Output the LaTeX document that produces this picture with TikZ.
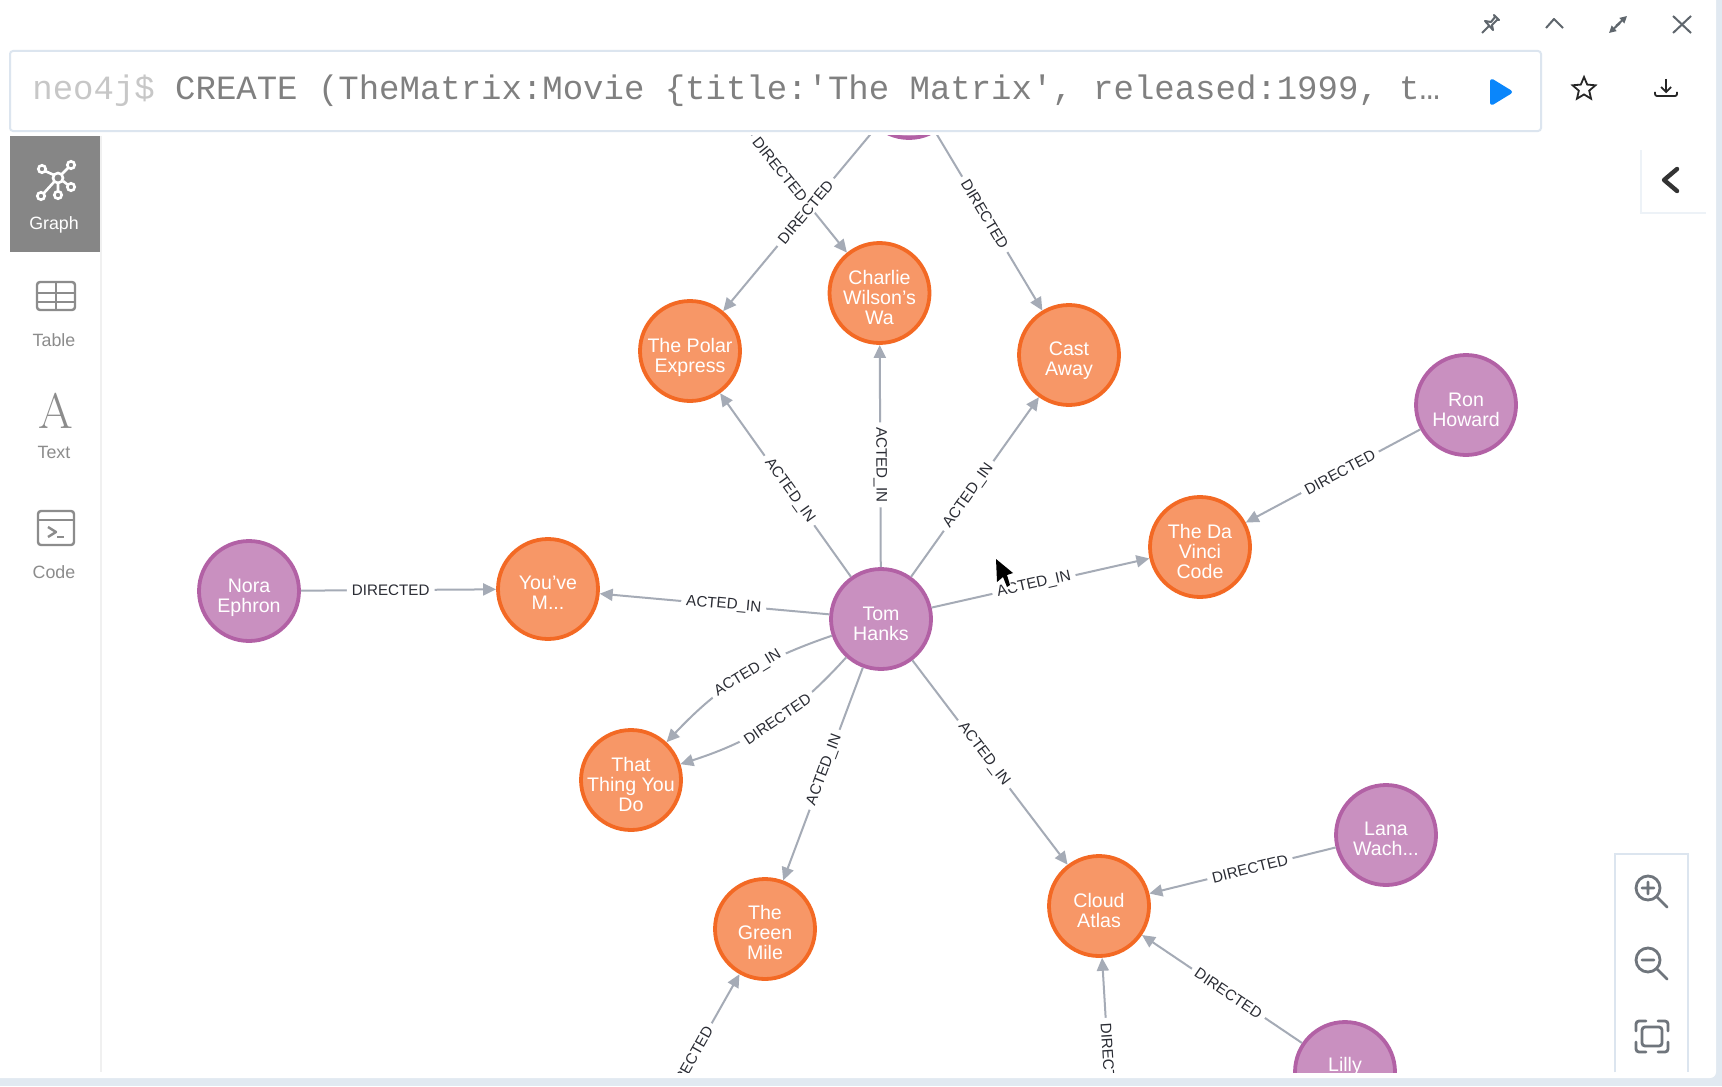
\documentclass[tikz,border=0pt]{standalone}
\usepackage{fontspec}
\setmainfont{Liberation Sans}
\setmonofont{Liberation Mono}
\usetikzlibrary{arrows.meta}
\usetikzlibrary{shapes.geometric}
\definecolor{movieFill}{HTML}{F79767}
\definecolor{movieLine}{HTML}{F36924}
\definecolor{personFill}{HTML}{C990C0}
\definecolor{personLine}{HTML}{B261A5}
\definecolor{relGrey}{HTML}{A5ABB6}
\definecolor{relText}{HTML}{2A2C34}
\definecolor{paneEdge}{HTML}{DCE5EF}
\definecolor{tabGrey}{HTML}{868686}
\definecolor{sideGrey}{HTML}{8C8C8C}
\definecolor{iconGrey}{HTML}{5F666D}
\definecolor{playBlue}{HTML}{0A86FB}
\tikzset{
  nodeText/.style={yshift=-2.2pt,inner sep=0,text=white,align=center,font=\fontsize{9.8}{10}\selectfont},
  nodeBase/.style={circle,minimum size=50pt,inner sep=0,line width=1.9pt},
  movie/.style={nodeBase,fill=movieFill,draw=movieLine},
  person/.style={nodeBase,fill=personFill,draw=personLine},
  rel/.style={draw=relGrey,line width=1pt,-{Triangle[length=6.5pt,width=6pt]}},
  relLabel/.style={sloped,pos=.46,fill=white,text=relText,inner xsep=2.5pt,inner ysep=1pt,
    font=\fontsize{7.6}{9}\selectfont},
  sideLabel/.style={text=sideGrey,font=\fontsize{8.9}{10}\selectfont},
  sideIcon/.style={draw=sideGrey,line width=1.2pt,line join=round},
  barIcon/.style={draw=iconGrey,line width=1pt,line join=round},
  zoomIcon/.style={draw=iconGrey!90,line width=1.4pt,line cap=round}
}

\begin{document}
\begin{tikzpicture}[x=0.5pt,y=-0.5pt]

\useasboundingbox (0,0) rectangle (1722,1086);
\fill[paneEdge!85] (0,0) rectangle (1722,1086);
\fill[white,rounded corners=3pt] (-20,-20) rectangle (1716,1078);

% graph, cut off by the panes round it
\begin{scope}
\clip (101,135) rectangle (1716,1072);

\node[person] (topPerson) at (909,88) {};
\node[movie,label={[nodeText,yshift=-1pt]center:The Polar\\Express}] (polar) at (690,351) {};
\node[movie,label={[nodeText]center:Charlie\\Wilson's\\Wa}] (charlie) at (879.5,293) {};
\node[movie,label={[nodeText,yshift=-.5pt]center:Cast\\Away}] (cast) at (1069,355) {};
\node[person,label={[nodeText]center:Ron\\Howard}] (ron) at (1466,405) {};
\node[movie,label={[nodeText]center:The Da\\Vinci\\Code}] (davinci) at (1200,547) {};
\node[person,label={[nodeText,yshift=-1pt]center:Nora\\Ephron}] (nora) at (249,591) {};
\node[movie,label={[nodeText,yshift=.5pt]center:You've\\M...}] (youve) at (548,589) {};
\node[person,label={[nodeText]center:Tom\\Hanks}] (tom) at (881,619) {};
\node[movie,label={[nodeText]center:That\\Thing You\\Do}] (thing) at (631,780) {};
\node[movie,label={[nodeText,yshift=.5pt]center:The\\Green\\Mile}] (green) at (765,929) {};
\node[movie,label={[nodeText]center:Cloud\\Atlas}] (cloud) at (1099,906) {};
\node[person,label={[nodeText,yshift=.5pt]center:Lana\\Wach...}] (lana) at (1386,835) {};
\node[person,label={[nodeText,yshift=1pt]center:Lilly\\ }] (lilly) at (1345,1072) {};

\coordinate (offTop) at (723,99);
\coordinate (offGreen) at (648,1136);
\coordinate (offCloud) at (1113.5,1150);

\draw[rel] (offTop)--(charlie) node[relLabel] {DIRECTED};
\draw[rel] (topPerson)--(polar) node[relLabel] {DIRECTED};
\draw[rel] (topPerson)--(cast) node[relLabel] {DIRECTED};
\draw[rel] (tom)--(polar) node[relLabel,pos=.47] {ACTED\_IN};
\draw[rel] (tom)--(charlie) node[relLabel] {ACTED\_IN};
\draw[rel] (tom)--(cast) node[relLabel,pos=.45] {ACTED\_IN};
\draw[rel] (tom)--(davinci) node[relLabel,pos=.47] {ACTED\_IN};
\draw[rel] (ron)--(davinci) node[relLabel] {DIRECTED};
\draw[rel] (tom)--(youve) node[relLabel] {ACTED\_IN};
\draw[rel] (nora)--(youve) node[relLabel] {DIRECTED};
\draw[rel] (tom) to[bend right=14] node[relLabel] {ACTED\_IN} (thing);
\draw[rel] (tom) to[bend left=15] node[relLabel] {DIRECTED} (thing);
\draw[rel] (tom)--(green) node[relLabel,pos=.48] {ACTED\_IN};
\draw[rel] (tom)--(cloud) node[relLabel] {ACTED\_IN};
\draw[rel] (lana)--(cloud) node[relLabel] {DIRECTED};
\draw[rel] (lilly)--(cloud) node[relLabel] {DIRECTED};
\draw[rel] (offGreen)--(green) node[relLabel] {DIRECTED};
\draw[rel] (offCloud)--(cloud) node[relLabel] {DIRECTED};

\end{scope}

% mouse pointer
\fill[white] (993,554)--(994,587)--(1003,581)--(1006,590)--(1012,588)--(1009,578)--(1017,575)--cycle;
\fill[black] (996,559)--(997,582)--(1003,577)--(1007,587)--(1010,585)--(1007,575)--(1013,573)--cycle;

% editor bar
\draw[paneEdge,line width=1pt,rounded corners=1.5pt,fill=white] (10,51) rectangle (1541,131);
\node[anchor=base west,inner sep=0,text=black!50,font=\ttfamily\fontsize{17}{20}\selectfont] (cmd) at (32,99)
  {\textcolor{black!22}{neo4j\$} CREATE (TheMatrix:Movie \{title:'The Matrix', released:1999, t…};
\fill[playBlue,draw=playBlue,line width=2pt,line join=round] (1492,81)--(1510,92)--(1492,103)--cycle;

% window buttons
\draw[barIcon] (1482,33)--(1489,26);
\draw[barIcon] (1485,21)--(1491,22)--(1495,17)--(1494,15)--(1499,20)--(1497,20)--(1492,25)--(1493,30)--cycle;
\draw[barIcon] (1546,28)--(1554,19)--(1563,28);
\draw[barIcon,-{Triangle[length=3.5pt,width=3.5pt]}] (1616,26)--(1627,16);
\draw[barIcon,-{Triangle[length=3.5pt,width=3.5pt]}] (1620,23)--(1609,33);
\draw[barIcon] (1673,16)--(1691,33);
\draw[barIcon] (1691,16)--(1673,33);
\node[star,star points=5,star point ratio=2.2,draw=black!85,line width=.9pt,minimum size=12pt,inner sep=0] (star) at (1584,89) {};
\draw[black!85,line width=.9pt] (1666,79)--(1666,92);
\draw[black!85,line width=.9pt] (1661,87)--(1666,92)--(1671,87);
\draw[black!85,line width=.9pt,rounded corners=1pt] (1655,92)--(1655,96)--(1677,96)--(1677,92);

% collapse tab
\fill[paneEdge!50] (1640,150) rectangle (1706,214);
\fill[white] (1642,148) rectangle (1706,212);
\draw[black!80,line width=2.2pt,line cap=round,line join=round] (1677,169)--(1664,180)--(1677,191);

% side bar
\draw[black!6,line width=1pt] (101,136)--(101,1072);
\fill[tabGrey] (10,136) rectangle (100,252);
\draw[white,line width=1.3pt] (58,178) circle (5) (42,169) circle (3.7) (71,165) circle (3.7)
  (71,187) circle (3.7) (58,195) circle (3.7) (41,196) circle (3.7);
\draw[white,line width=1.3pt] (45,171)--(54,175) (68,168)--(62,174) (68,185)--(63,181)
  (58,191)--(58,183) (44,193)--(54,182);
\node[text=white,font=\fontsize{8.9}{10}\selectfont] (graphText) at (54,225) {Graph};

\draw[sideIcon,rounded corners=1.5pt] (37,282) rectangle (75,310);
\draw[sideIcon,line width=.9pt] (37,293)--(75,293) (37,302)--(75,302) (56,282)--(56,310);
\node[sideLabel] (tableText) at (54,340) {Table};

\node[text=sideGrey,font=\fontfamily{lmr}\selectfont\fontsize{25}{26}\selectfont] (letterA) at (56,411) {A};
\node[sideLabel] (textText) at (54,452) {Text};

\draw[sideIcon,rounded corners=1.5pt] (38,511) rectangle (74,545);
\draw[sideIcon] (38,520)--(74,520);
\draw[sideIcon] (48,527)--(56,532)--(48,537);
\draw[sideIcon] (57,537)--(64,537);
\node[sideLabel] (codeText) at (54,572) {Code};

% zoom buttons
\fill[white] (1615,854) rectangle (1688,1072);
\draw[paneEdge,line width=1.4pt] (1615,1072)--(1615,854)--(1688,854)--(1688,1072);
\draw[zoomIcon] (1648,888) circle (12) (1657,897)--(1667,907) (1642,888)--(1654,888) (1648,882)--(1648,894);
\draw[zoomIcon] (1648,960) circle (12) (1657,969)--(1667,979) (1642,960)--(1654,960);
\draw[zoomIcon,rounded corners=1.5pt] (1642,1027) rectangle (1662,1046);
\draw[zoomIcon,rounded corners=1.5pt] (1636,1031)--(1636,1021)--(1646,1021) (1658,1021)--(1668,1021)--(1668,1031)
  (1668,1042)--(1668,1052)--(1658,1052) (1646,1052)--(1636,1052)--(1636,1042);

\end{tikzpicture}
\end{document}
